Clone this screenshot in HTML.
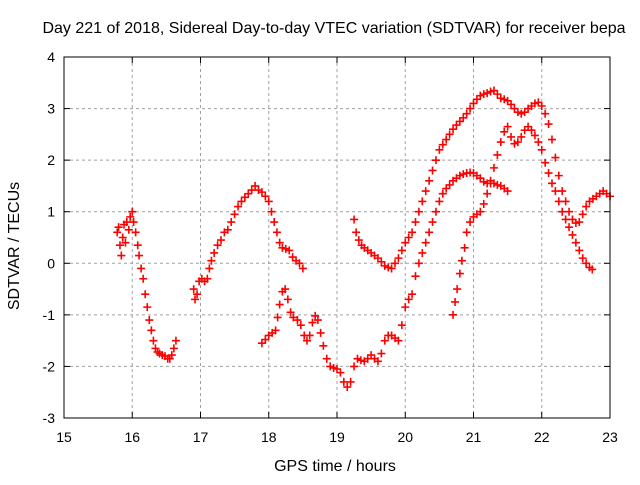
<!DOCTYPE html>
<html><head><meta charset="utf-8"><style>
body{margin:0;background:#fff}
svg text{font-family:"Liberation Sans",sans-serif;fill:#000}
</style></head><body>
<svg id="c" width="640" height="480" xmlns="http://www.w3.org/2000/svg">
<text x="334" y="33" font-size="16" text-anchor="middle">Day 221 of 2018, Sidereal Day-to-day VTEC variation (SDTVAR) for receiver bepa</text>
<text x="335" y="471" font-size="16" text-anchor="middle">GPS time / hours</text>
<text x="19" y="246" font-size="16" text-anchor="middle" transform="rotate(-90 19 246)">SDTVAR / TECUs</text>
<g id="grid"></g>
<g id="ticks"></g>
<g id="marks"></g>
<rect x="64" y="57" width="546" height="361" fill="none" stroke="#000" stroke-width="1"/>
</svg>
<script>
const xTicks=[15,16,17,18,19,20,21,22,23];
const yTicks=[-3,-2,-1,0,1,2,3,4];
const seriesA=[[15.78,0.6],[15.8,0.7],[15.82,0.35],[15.84,0.15],[15.86,0.5],[15.88,0.75],[15.9,0.4],[15.92,0.8],[15.95,0.65],[15.97,0.9],[16.0,1.0],[16.02,0.8],[16.05,0.6],[16.08,0.35],[16.1,0.15],[16.13,-0.1],[16.16,-0.3],[16.19,-0.6],[16.22,-0.85],[16.25,-1.1],[16.28,-1.3],[16.31,-1.5],[16.34,-1.65],[16.37,-1.72],[16.4,-1.75],[16.44,-1.78],[16.48,-1.8],[16.52,-1.85],[16.55,-1.85],[16.58,-1.78],[16.61,-1.65],[16.64,-1.5]];
const seriesB=[[16.9,-0.5],[16.92,-0.7],[16.95,-0.6],[16.98,-0.35],[17.02,-0.3],[17.06,-0.35],[17.1,-0.3],[17.13,-0.1],[17.16,0.05],[17.2,0.2],[17.25,0.35],[17.3,0.45],[17.35,0.6],[17.4,0.65],[17.45,0.8],[17.5,0.95],[17.55,1.1],[17.6,1.2],[17.65,1.28],[17.7,1.35],[17.75,1.42],[17.8,1.5],[17.85,1.42],[17.9,1.38],[17.95,1.3],[18.0,1.2],[18.04,1.0],[18.08,0.8],[18.12,0.6],[18.16,0.4],[18.2,0.3],[18.25,0.28],[18.3,0.25],[18.35,0.12],[18.4,0.05],[18.45,0.0],[18.5,-0.1]];
const seriesC=[[17.9,-1.55],[17.95,-1.48],[18.0,-1.4],[18.05,-1.35],[18.1,-1.3],[18.13,-1.05],[18.16,-0.8],[18.2,-0.55],[18.24,-0.5],[18.28,-0.7],[18.32,-0.95],[18.36,-1.05],[18.42,-1.1],[18.47,-1.2],[18.52,-1.4],[18.56,-1.5],[18.6,-1.4],[18.64,-1.15],[18.68,-1.02],[18.72,-1.1],[18.76,-1.35],[18.8,-1.6],[18.85,-1.85],[18.9,-2.0],[18.95,-2.03],[19.0,-2.05],[19.05,-2.12],[19.1,-2.3],[19.15,-2.4],[19.2,-2.3],[19.25,-2.0],[19.3,-1.85],[19.35,-1.88],[19.4,-1.9],[19.45,-1.85],[19.5,-1.78],[19.55,-1.85],[19.6,-1.9],[19.65,-1.75],[19.7,-1.5],[19.75,-1.4],[19.8,-1.4],[19.85,-1.45],[19.9,-1.5],[19.95,-1.2],[20.0,-0.85],[20.05,-0.7],[20.1,-0.6],[20.15,-0.25],[20.2,0.0],[20.25,0.2],[20.3,0.4],[20.35,0.6],[20.4,0.8],[20.45,1.0],[20.5,1.2],[20.55,1.35],[20.6,1.45],[20.65,1.52],[20.7,1.6],[20.75,1.65],[20.8,1.7],[20.85,1.73],[20.9,1.75],[20.95,1.76],[21.0,1.75],[21.05,1.7],[21.1,1.65],[21.15,1.58],[21.2,1.55],[21.25,1.55],[21.3,1.55],[21.35,1.52],[21.4,1.5],[21.45,1.45],[21.5,1.4]];
const seriesD=[[19.25,0.85],[19.28,0.6],[19.32,0.45],[19.36,0.35],[19.4,0.3],[19.45,0.25],[19.5,0.2],[19.55,0.15],[19.6,0.1],[19.65,0.03],[19.7,-0.05],[19.75,-0.08],[19.8,-0.1],[19.85,0.0],[19.9,0.1],[19.95,0.25],[20.0,0.4],[20.05,0.5],[20.1,0.6],[20.15,0.8],[20.2,1.0],[20.25,1.2],[20.3,1.4],[20.35,1.6],[20.4,1.8],[20.45,2.0],[20.5,2.2],[20.55,2.3],[20.6,2.4],[20.65,2.5],[20.7,2.6],[20.75,2.68],[20.8,2.75],[20.85,2.82],[20.9,2.9],[20.95,3.0],[21.0,3.1],[21.05,3.18],[21.1,3.25],[21.15,3.28],[21.2,3.3],[21.25,3.33],[21.3,3.35],[21.35,3.28],[21.4,3.2],[21.45,3.18],[21.5,3.15],[21.55,3.08],[21.6,3.0],[21.65,2.93],[21.7,2.9],[21.75,2.93],[21.8,3.0],[21.85,3.05],[21.9,3.1],[21.95,3.12],[22.0,3.05],[22.05,2.9],[22.1,2.7],[22.15,2.4],[22.2,2.05],[22.25,1.7],[22.3,1.4],[22.35,1.2],[22.4,1.0],[22.45,0.85],[22.5,0.78],[22.55,0.8],[22.6,0.95],[22.65,1.1],[22.7,1.2],[22.75,1.25],[22.8,1.3],[22.85,1.35],[22.9,1.4],[22.95,1.35],[23.0,1.3]];
const seriesE=[[20.7,-1.0],[20.73,-0.75],[20.76,-0.5],[20.8,-0.2],[20.83,0.05],[20.87,0.3],[20.9,0.6],[20.95,0.8],[21.0,0.9],[21.05,0.95],[21.1,1.0],[21.15,1.15],[21.2,1.35],[21.25,1.6],[21.3,1.85],[21.35,2.1],[21.4,2.35],[21.45,2.55],[21.5,2.65],[21.55,2.45],[21.6,2.32],[21.65,2.35],[21.7,2.45],[21.75,2.58],[21.8,2.65],[21.85,2.58],[21.9,2.48],[21.95,2.35],[22.0,2.2],[22.05,1.95],[22.1,1.75],[22.15,1.55],[22.2,1.4],[22.25,1.2],[22.3,1.0],[22.35,0.85],[22.4,0.7],[22.45,0.55],[22.5,0.4],[22.55,0.25],[22.6,0.1],[22.65,0.0],[22.7,-0.08],[22.74,-0.12]];
const NS='http://www.w3.org/2000/svg';
const X0=64,X1=610,Y0=418,Y1=57;
function xs(t){return X0+(t-15)/(23-15)*(X1-X0);}
function ys(v){return Y0-(v+3)/(4+3)*(Y0-Y1);}
const grid=document.getElementById('grid'),ticks=document.getElementById('ticks'),marks=document.getElementById('marks');
function mk(tag,attrs,parent){const e=document.createElementNS(NS,tag);for(const k in attrs)e.setAttribute(k,attrs[k]);parent.appendChild(e);return e;}
xTicks.forEach(t=>{const x=xs(t);
 if(t>15&&t<23){const g=mk('line',{x1:x,x2:x,y1:Y1,y2:Y0,stroke:'#a0a0a0','stroke-dasharray':'3,3'},grid);
 
 }
 const l=mk('text',{x:x,y:Y0+24,'font-size':'14','text-anchor':'middle'},ticks);l.textContent=t;
 
 
 mk('line',{x1:x,x2:x,y1:Y0,y2:Y0-6,stroke:'#000'},ticks);mk('line',{x1:x,x2:x,y1:Y1,y2:Y1+6,stroke:'#000'},ticks);});
yTicks.forEach(v=>{const y=ys(v);
 if(v>-3&&v<4){const g=mk('line',{x1:X0,x2:X1,y1:y,y2:y,stroke:'#a0a0a0','stroke-dasharray':'3,3'},grid);
 
 }
 const l=mk('text',{x:X0-9,y:y+5,'font-size':'14','text-anchor':'end'},ticks);l.textContent=v;
 
 
 mk('line',{x1:X0,x2:X0+6,y1:y,y2:y,stroke:'#000'},ticks);mk('line',{x1:X1,x2:X1-6,y1:y,y2:y,stroke:'#000'},ticks);});
[seriesA,seriesB,seriesC,seriesD,seriesE].forEach(s=>{s.forEach(p=>{const x=xs(p[0]),y=ys(p[1]);
 const m=mk('path',{d:`M${x-4},${y}h8M${x},${y-4}v8`,stroke:'#f00','stroke-width':'1.6',fill:'none'},marks);
 
 });});
</script>
</body></html>
